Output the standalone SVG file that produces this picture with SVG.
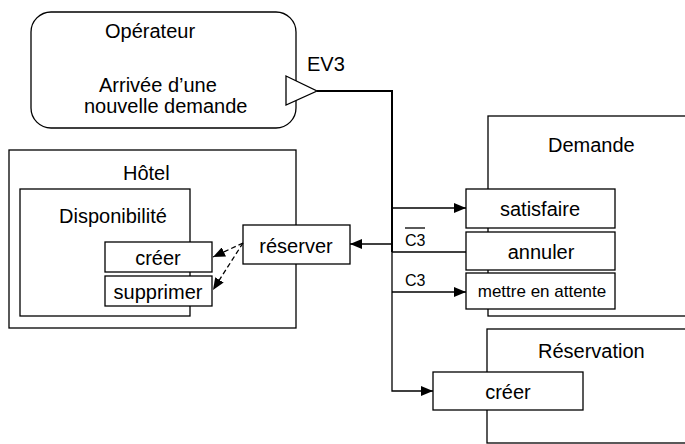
<svg xmlns="http://www.w3.org/2000/svg" width="685" height="444" viewBox="0 0 685 444">
<defs>
<style>
.box{fill:#fff;stroke:#000;stroke-width:1.3}
.t{font-family:"Liberation Sans",Arial,sans-serif;font-size:20px;fill:#000}
.m{text-anchor:middle}
.s{font-size:16px}
.ln{fill:none;stroke:#000;stroke-width:1.3}
.dash{fill:none;stroke:#000;stroke-width:1.3;stroke-dasharray:5,3}
</style>
<marker id="ah" viewBox="0 0 12 10" refX="12" refY="5" markerWidth="12" markerHeight="10" markerUnits="userSpaceOnUse" orient="auto">
<path d="M0,0 L12,5 L0,10 Z" fill="#000"/>
</marker>
</defs>
<rect width="685" height="444" fill="#fff"/>

<g id="demande">
<rect class="box" x="488" y="116" width="220" height="200"/>
<text class="t" x="548" y="152">Demande</text>
</g>
<g id="reservation">
<rect class="box" x="487" y="329" width="220" height="114"/>
<text class="t" x="538" y="358">Réservation</text>
</g>
<g id="hotel">
<rect class="box" x="9" y="150" width="287" height="178"/>
<text class="t" x="123" y="180">Hôtel</text>
</g>
<g id="disponibilite">
<rect class="box" x="20" y="189" width="170" height="127"/>
<text class="t" x="59" y="223">Disponibilité</text>
</g>
<g id="dispo-creer">
<rect class="box" x="105" y="242" width="107" height="30"/>
<text class="t m" x="158" y="265">créer</text>
</g>
<g id="dispo-supprimer">
<rect class="box" x="105" y="276" width="107" height="30"/>
<text class="t m" x="158" y="299">supprimer</text>
</g>
<g id="reserver">
<rect class="box" x="243" y="225" width="107" height="39"/>
<text class="t m" x="296" y="253">réserver</text>
</g>
<g id="satisfaire">
<rect class="box" x="466" y="189" width="149" height="39"/>
<text class="t m" x="540" y="216">satisfaire</text>
</g>
<g id="annuler">
<rect class="box" x="466" y="232" width="149" height="38"/>
<text class="t m" x="541" y="259">annuler</text>
</g>
<g id="attente">
<rect class="box" x="466" y="273" width="149" height="36"/>
<text class="t m" x="542" y="297" style="font-size:17px">mettre en attente</text>
</g>
<g id="res-creer">
<rect class="box" x="433" y="372" width="150" height="38"/>
<text class="t m" x="508" y="399">créer</text>
</g>
<g id="operateur">
<rect class="box" x="31" y="12" width="265" height="116" rx="20" ry="20"/>
<text class="t" x="105" y="38">Opérateur</text>
<text class="t" x="99" y="92">Arrivée d’une</text>
<text class="t" x="84" y="113">nouvelle demande</text>
<path class="box" d="M286,76 L317,91 L286,105 Z"/>
</g>

<g id="connectors">
<path fill="none" stroke="#000" stroke-width="2" d="M317,91 H392 V252"/>
<path class="ln" d="M392,250 V391 H433" marker-end="url(#ah)"/>
<path class="ln" d="M392,208 H466" marker-end="url(#ah)"/>
<path class="ln" d="M392,252 H466"/>
<path class="ln" d="M392,292 H466" marker-end="url(#ah)"/>
<path class="ln" d="M392,244 H350" marker-end="url(#ah)"/>
<path class="dash" d="M243,243 L213,257" marker-end="url(#ah)"/>
<path class="dash" d="M243,243 L213,290" marker-end="url(#ah)"/>
</g>

<g id="labels">
<text class="t" x="307" y="71">EV3</text>
<text class="t s" x="405" y="246">C3</text>
<line x1="405" y1="228" x2="425" y2="228" stroke="#000" stroke-width="1.3"/>
<text class="t s" x="405" y="286">C3</text>
</g>
</svg>
